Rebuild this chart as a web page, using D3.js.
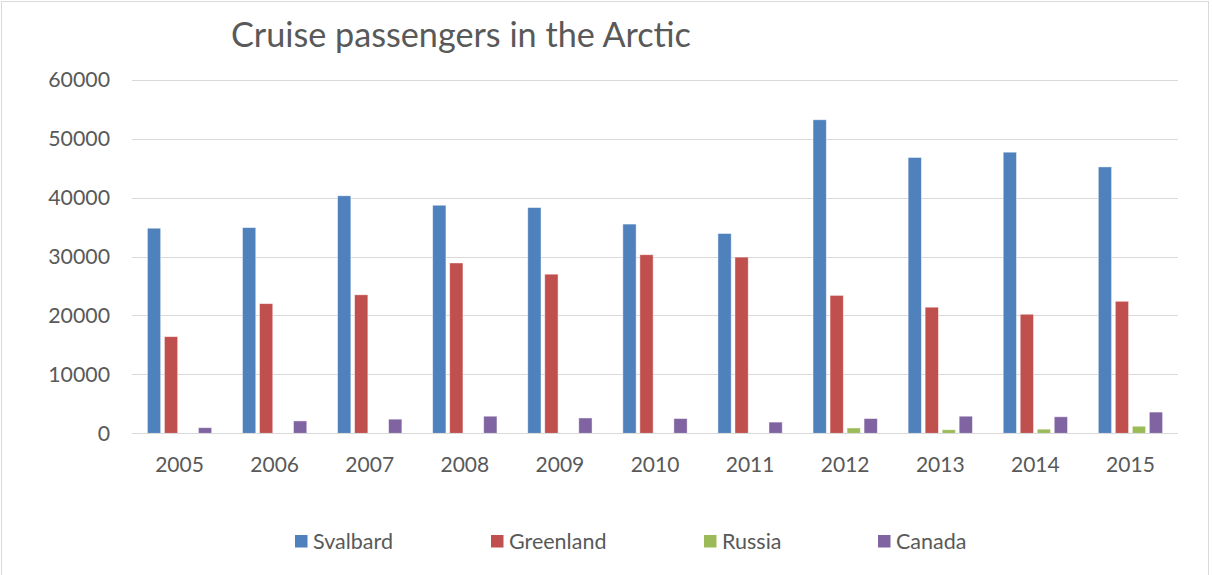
<!DOCTYPE html>
<html>
<head>
<meta charset="utf-8">
<script src="https://cdn.jsdelivr.net/npm/d3@7"></script>
<style>
  html, body { margin: 0; padding: 0; background: #fff; }
  svg { display: block; font-family: Lato, "Open Sans", sans-serif; }
</style>
</head>
<body>
<svg id="chart" width="1212" height="575"></svg>
<script>
// Cruise passengers by region, 2005–2015
const years = ["2005", "2006", "2007", "2008", "2009", "2010", "2011", "2012", "2013", "2014", "2015"];
const seriesNames = ["Svalbard", "Greenland", "Russia", "Canada"];
const svalbard  = [34800, 34900, 40300, 38700, 38300, 35500, 33900, 53200, 46800, 47700, 45200];
const greenland = [16400, 22000, 23500, 28900, 27000, 30300, 29900, 23400, 21400, 20200, 22400];
const russia    = [0, 0, 0, 0, 0, 0, 0, 900, 600, 700, 1200];
const canada    = [950, 2100, 2400, 2900, 2600, 2500, 1900, 2500, 2900, 2800, 3600];
const yTicks = [0, 10000, 20000, 30000, 40000, 50000, 60000];
const colors = ["#4F81BD", "#C0504D", "#9BBB59", "#8064A2"];

const seriesValues = [svalbard, greenland, russia, canada];
const rows = years.map((y, i) => ({
  year: y,
  values: seriesNames.map((s, k) => ({ series: s, value: seriesValues[k][i] }))
}));

const svg = d3.select("#chart");
const plot = { left: 132, right: 1178, top: 79.7, bottom: 433.3 };

// chart frame
svg.append("rect")
  .attr("x", 1.5).attr("y", 1.5)
  .attr("width", 1207).attr("height", 580)
  .attr("fill", "#fff").attr("stroke", "#d9d9d9").attr("stroke-width", 1);

const x0 = d3.scaleBand().domain(years).range([plot.left, plot.right]).padding(0);
const x1 = d3.scaleBand().domain(seriesNames)
  .range([x0.bandwidth() / 2 - 32.15, x0.bandwidth() / 2 + 32.15])
  .paddingInner(0.22).paddingOuter(0);
const y = d3.scaleLinear().domain([0, 60000]).range([plot.bottom, plot.top]);
const color = d3.scaleOrdinal().domain(seriesNames).range(colors);

// horizontal gridlines
svg.append("g")
  .selectAll("line")
  .data(yTicks)
  .join("line")
  .attr("x1", plot.left).attr("x2", plot.right)
  .attr("y1", d => Math.round(y(d)) + 0.5).attr("y2", d => Math.round(y(d)) + 0.5)
  .attr("stroke", "#d9d9d9").attr("stroke-width", 1);

// y axis labels
const yAxis = d3.axisLeft(y).tickValues(yTicks).tickSize(0).tickPadding(0).tickFormat(d3.format("d"));
const yg = svg.append("g").attr("transform", `translate(${plot.left - 22},0)`).call(yAxis);
yg.select(".domain").remove();
yg.selectAll("text")
  .attr("fill", "#595959").attr("font-size", 21.3)
  .attr("font-family", "Lato, 'Open Sans', sans-serif");

// bars
const groups = svg.append("g")
  .selectAll("g")
  .data(rows)
  .join("g")
  .attr("transform", d => `translate(${x0(d.year)},0)`);

groups.selectAll("rect")
  .data(d => d.values.filter(v => v.value > 0))
  .join("rect")
  .attr("x", d => x1(d.series))
  .attr("width", x1.bandwidth())
  .attr("y", d => y(d.value))
  .attr("height", d => y(0) - y(d.value))
  .attr("fill", d => color(d.series))
  .attr("stroke", "rgba(255,255,255,0.55)")
  .attr("stroke-width", 0.8);

// category axis baseline and labels
svg.append("line")
  .attr("x1", plot.left).attr("x2", plot.right)
  .attr("y1", Math.round(y(0)) + 0.5).attr("y2", Math.round(y(0)) + 0.5)
  .attr("stroke", "#d9d9d9").attr("stroke-width", 1);

const xAxis = d3.axisBottom(x0).tickSize(0).tickPadding(0);
const xg = svg.append("g").attr("transform", `translate(0,${plot.bottom + 33})`).call(xAxis);
xg.select(".domain").remove();
xg.selectAll("text")
  .attr("dy", 0)
  .attr("fill", "#595959").attr("font-size", 21)
  .attr("font-family", "Lato, 'Open Sans', sans-serif")
  .attr("y", 6);

// title
svg.append("text")
  .attr("x", 231).attr("y", 47)
  .attr("fill", "#595959")
  .attr("font-size", 34.2)
  .text("Cruise passengers in the Arctic");

// legend
const legendX = [295, 491, 704, 878];
const legend = svg.append("g")
  .selectAll("g")
  .data(seriesNames)
  .join("g")
  .attr("transform", (d, i) => `translate(${legendX[i]},535)`);
legend.append("rect")
  .attr("width", 12.5).attr("height", 12.5)
  .attr("fill", d => color(d));
legend.append("text")
  .attr("x", 18).attr("y", 13.5)
  .attr("fill", "#595959").attr("font-size", 21.5)
  .text(d => d);
</script>
</body>
</html>
